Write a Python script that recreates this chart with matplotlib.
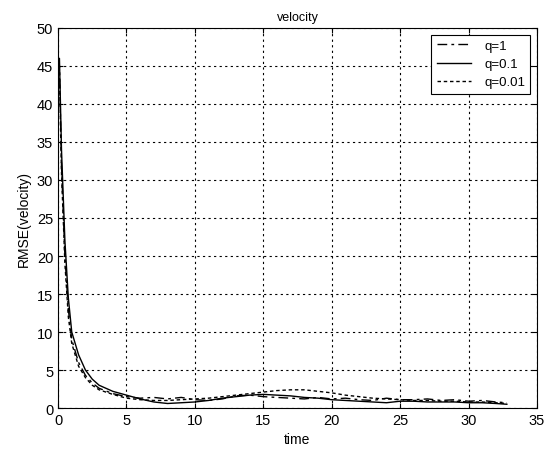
import matplotlib.pyplot as plt
import numpy as np

plt.rcParams['font.family'] = ['Liberation Sans', 'DejaVu Sans']

t = [0, 0.1, 0.25, 0.5, 0.75, 1, 1.5, 2, 2.5, 3, 4, 5, 6, 7, 8, 9, 10, 11, 12, 13,
     14, 15, 16, 17, 18, 19, 20, 21, 22, 23, 24, 25, 26, 27, 28, 29, 30, 31, 32, 32.8]

q1 = [44, 45, 32, 20, 13, 9, 6, 4.3, 3.3, 2.6, 1.9, 1.5, 1.3, 1.4, 1.2, 1.4, 1.1, 1.0,
      1.2, 1.6, 1.7, 1.5, 1.4, 1.3, 1.2, 1.4, 1.2, 1.3, 1.1, 1.0, 1.3, 1.1, 1.1,
      1.2, 1.0, 1.1, 0.9, 1.0, 0.8, 0.7]
q01 = [45, 46, 34, 22, 14.5, 10, 7, 5, 3.8, 3.0, 2.2, 1.7, 1.2, 0.8, 0.6, 0.7, 0.8, 1.0,
       1.3, 1.5, 1.7, 1.8, 1.7, 1.6, 1.4, 1.3, 1.1, 1.0, 0.9, 0.8, 0.7, 0.9, 0.9,
       0.8, 0.8, 0.8, 0.7, 0.7, 0.6, 0.5]
q001 = [43, 44, 31, 19, 12, 8.5, 5.5, 4.0, 3.0, 2.4, 1.8, 1.3, 1.1, 1.0, 1.0, 1.1, 1.2,
        1.3, 1.5, 1.7, 1.9, 2.1, 2.3, 2.4, 2.4, 2.2, 2.0, 1.7, 1.5, 1.3, 1.2, 1.1,
        1.0, 1.0, 0.9, 0.9, 0.8, 0.8, 0.7, 0.6]

fig = plt.figure(figsize=(5.53, 4.52), dpi=100)
ax = fig.add_axes([0.105, 0.095, 0.866, 0.841])

# q=1 是点划线, q=0.01 是短虚线
ax.plot(t, q1, color='black', linewidth=1.0, linestyle=(0, (7, 3, 2, 3)), label='q=1')
ax.plot(t, q01, color='black', linewidth=1.0, linestyle='-', label='q=0.1')
ax.plot(t, q001, color='black', linewidth=1.0, linestyle=(0, (2.5, 2)), label='q=0.01')

ax.set_xlim(0, 35)
ax.set_ylim(0, 50)
ax.set_xticks(np.arange(0, 36, 5))
ax.set_yticks(np.arange(0, 51, 5))
ax.grid(True, color='black', linestyle=(0, (2, 3)), linewidth=0.8)
ax.tick_params(direction='in', top=True, right=True, labelsize=10.5)

ax.set_title('velocity', fontsize=9, pad=6)
ax.set_xlabel('time', fontsize=10)
ax.set_ylabel('RMSE(velocity)', fontsize=10)

leg = ax.legend(loc='upper right', fancybox=False, edgecolor='black', framealpha=1,
                fontsize=9.5, handlelength=2.6, handletextpad=1.0,
                borderaxespad=0.5, labelspacing=0.45)
leg.get_frame().set_linewidth(0.8)

fig.savefig('out.png', dpi=100)
